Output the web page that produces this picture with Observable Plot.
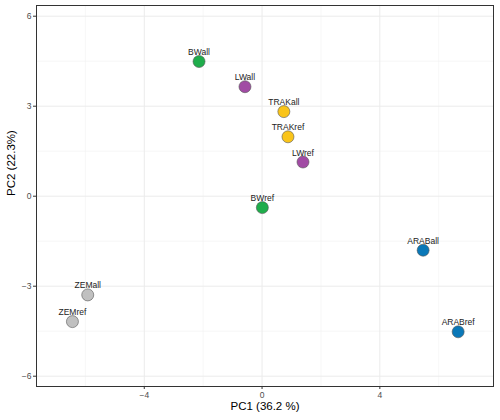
<!DOCTYPE html>
<html>
<head>
<meta charset="utf-8">
<script src="https://cdn.jsdelivr.net/npm/d3@7"></script>
<script src="https://cdn.jsdelivr.net/npm/@observablehq/plot@0.6"></script>
<style>
  body { margin: 0; background: #fff; font-family: "Liberation Sans", Arial, sans-serif; }
</style>
</head>
<body>
<div id="chart"></div>
<script>
// PCA scores per sample
const samples = ["BWall", "LWall", "TRAKall", "TRAKref", "LWref", "BWref", "ARABall", "ARABref", "ZEMall", "ZEMref"];
const pc1 = [-2.14, -0.58, 0.74, 0.88, 1.39, 0.01, 5.47, 6.66, -5.92, -6.44];
const pc2 = [4.49, 3.65, 2.82, 1.98, 1.14, -0.38, -1.80, -4.52, -3.29, -4.18];
const groups = ["BW", "LW", "TRAK", "TRAK", "LW", "BW", "ARAB", "ARAB", "ZEM", "ZEM"];

// group palette
const groupNames = ["BW", "LW", "TRAK", "ARAB", "ZEM"];
const groupColors = ["#1fad4b", "#a14ba4", "#f9c41a", "#0a78b8", "#c0c0c0"];

// axis breaks
const xMajor = [-4, 0, 4];
const xMinor = [-6, -2, 2, 6];
const yMajor = [-6, -3, 0, 3, 6];
const yMinor = [-4.5, -1.5, 1.5, 4.5];

const xTitle = "PC1 (36.2 %)";
const yTitle = "PC2 (22.3%)";

const data = samples.map((s, i) => ({ sample: s, x: pc1[i], y: pc2[i], group: groups[i] }));

const chart = Plot.plot({
  width: 500,
  height: 420,
  marginLeft: 36,
  marginRight: 7,
  marginTop: 5,
  marginBottom: 34,
  style: { fontFamily: "Liberation Sans, Arial, sans-serif", background: "#fff" },
  x: { domain: [-7.66, 7.86] },
  y: { domain: [-6.343, 6.357] },
  color: { domain: groupNames, range: groupColors },
  marks: [
    Plot.ruleX(xMinor, { stroke: "#f2f2f2", strokeWidth: 0.6 }),
    Plot.ruleY(yMinor, { stroke: "#f2f2f2", strokeWidth: 0.6 }),
    Plot.ruleX(xMajor, { stroke: "#ebebeb", strokeWidth: 1 }),
    Plot.ruleY(yMajor, { stroke: "#ebebeb", strokeWidth: 1 }),
    Plot.frame({ stroke: "#333", strokeWidth: 1 }),
    Plot.axisX(xMajor, { tickSize: 3, tickPadding: 2, fontSize: 8.5, stroke: "#333", fill: "#4d4d4d", label: null }),
    Plot.axisY(yMajor, { tickSize: 3, tickPadding: 2, fontSize: 8.5, stroke: "#333", fill: "#4d4d4d", label: null }),
    Plot.text([xTitle], { frameAnchor: "bottom", dy: 23, text: d => d, fontSize: 11.5, fill: "#000" }),
    Plot.text([yTitle], { frameAnchor: "left", dx: -25, rotate: -90, text: d => d, fontSize: 11.5, fill: "#000" }),
    Plot.dot(data, { x: "x", y: "y", fill: "group", r: 6, stroke: "#555", strokeWidth: 0.6 }),
    Plot.text(data, { x: "x", y: "y", text: "sample", lineAnchor: "bottom", dy: -6.5, fontSize: 8.5, fill: "#222" })
  ]
});

document.getElementById("chart").appendChild(chart);
</script>
</body>
</html>
